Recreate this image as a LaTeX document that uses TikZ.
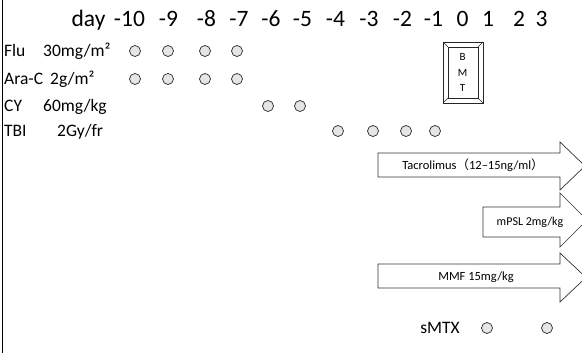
\documentclass[tikz,border=0pt]{standalone}
\usepackage{fontspec}
\setmainfont{Carlito}
\newfontfamily\cjk{Noto Sans CJK JP}
\begin{document}
\begin{tikzpicture}[x=1pt,y=-1pt,
  dose/.style={circle,draw=black!85,fill=black!10,line width=0.7pt,minimum size=11pt,inner sep=0pt},
  daylbl/.style={anchor=base,font=\fontsize{23.5}{26}\selectfont,inner sep=0pt},
  druglbl/.style={anchor=base west,font=\fontsize{17.5}{19}\selectfont,inner sep=0pt},
  blockarrow/.style={draw=black!80,fill=white,line width=0.7pt,line join=miter},
  arrowtxt/.style={font=\fontsize{12}{14}\selectfont,inner sep=0pt}]
\useasboundingbox (0,0) rectangle (582,353);
\clip (0,0) rectangle (582,353);

% table edge on the left
\draw[line width=1.6pt] (2.5,-2) -- (2.5,355);

% day axis
\node[daylbl] (hday) at (88.5,27) {day};
\foreach \d/\x in {-10/129.5,-9/168.5,-8/206.5,-7/239,-6/271,-5/302.5,-4/335.5,-3/369,-2/402.5,-1/433.5,0/462.5,1/488,2/519,3/541.5}
  \node[daylbl] (h\d) at (\x,27) {\d};

% conditioning regimen labels
\node[druglbl] (flu) at (4,57) {Flu};
\node[druglbl] (fludose) at (43,57) {30mg/m²};
\node[druglbl] (arac) at (4,85) {Ara-C};
\node[druglbl] (aracdose) at (50,85) {2g/m²};
\node[druglbl] (cy) at (4,112) {CY};
\node[druglbl] (cydose) at (43,112) {60mg/kg};
\node[druglbl] (tbi) at (4,137) {TBI};
\node[druglbl] (tbidose) at (57,137) {2Gy/fr};

% administration days
\foreach \x [count=\i] in {135,168,205,237} {
  \node[dose] (flu\i) at (\x,51) {};
  \node[dose] (arac\i) at (\x,79) {};
}
\foreach \x [count=\i] in {268,300}
  \node[dose] (cy\i) at (\x,106) {};
\foreach \x [count=\i] in {338,373,406,435}
  \node[dose] (tbi\i) at (\x,131) {};

% transplant day marker (bevelled box)
\draw[black!85,line width=0.7pt] (443,42) rectangle (483,103);
\draw[black!85,line width=0.7pt] (448,47) rectangle (478,98);
\draw[black!85,line width=0.5pt] (443,42) -- (448,47) (483,42) -- (478,47)
  (443,103) -- (448,98) (483,103) -- (478,98);
\node[font=\fontsize{11}{12}\selectfont,inner sep=0pt] (bmtB) at (462.5,57) {B};
\node[font=\fontsize{11}{12}\selectfont,inner sep=0pt] (bmtM) at (462.5,73) {M};
\node[font=\fontsize{11}{12}\selectfont,inner sep=0pt] (bmtT) at (462.5,88) {T};

% GVHD prophylaxis
\draw[blockarrow] (378,153) -- (560,153) -- (560,142) -- (585,166) -- (560,190) -- (560,177) -- (378,177) -- cycle;
\node[arrowtxt,font=\fontsize{12.5}{14}\selectfont] (tac) at (473,165) {Tacrolimus{\cjk （}12–15ng/ml{\cjk ）}};

\draw[blockarrow] (483,207) -- (560,207) -- (560,193) -- (587,220) -- (560,247) -- (560,237) -- (483,237) -- cycle;
\node[arrowtxt] (mpsl) at (530,222) {mPSL 2mg/kg};

\draw[blockarrow] (378,264) -- (560,264) -- (560,253) -- (586,277.5) -- (560,302) -- (560,288) -- (378,288) -- cycle;
\node[arrowtxt,font=\fontsize{12.5}{14}\selectfont] (mmf) at (476,277) {MMF 15mg/kg};

% short-term methotrexate
\node[anchor=base,font=\fontsize{17.5}{19}\selectfont,inner sep=0pt] (smtx) at (440,333) {sMTX};
\node[dose] (mtx1) at (487,328) {};
\node[dose] (mtx2) at (547,328) {};
\end{tikzpicture}
\end{document}
